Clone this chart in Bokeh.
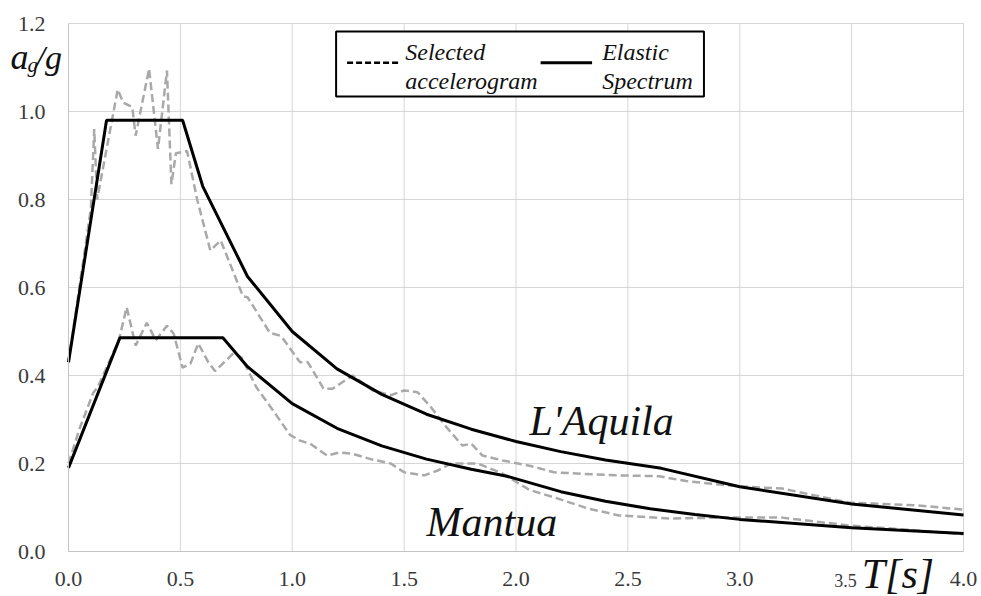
from bokeh.plotting import figure
from bokeh.models import Range1d, FixedTicker, PrintfTickFormatter, Label, LinearAxis
from bokeh.embed import file_html
from bokeh.resources import INLINE

# ---- data: spectral acceleration (a_g/g) versus period T [s] ----
aq_acc_T = [0.0, 0.10, 0.115, 0.128, 0.22, 0.245, 0.285, 0.30, 0.36, 0.40, 0.44, 0.46,
            0.48, 0.53, 0.575, 0.634, 0.68, 0.78, 0.80, 0.90, 0.95, 1.035, 1.07, 1.14,
            1.18, 1.27, 1.36, 1.44, 1.50, 1.56, 1.62, 1.69, 1.76, 1.80, 1.85, 1.94,
            2.06, 2.17, 2.36, 2.46, 2.64, 2.76, 2.91, 3.0, 3.19, 3.34, 3.49, 3.79, 4.0]
aq_acc_Sa = [0.43, 0.78, 0.96, 0.80, 1.05, 1.02, 1.01, 0.945, 1.097, 0.915, 1.093, 0.835,
             0.905, 0.91, 0.80, 0.684, 0.707, 0.58, 0.578, 0.497, 0.49, 0.43, 0.43, 0.37,
             0.37, 0.40, 0.366, 0.355, 0.366, 0.362, 0.328, 0.282, 0.241, 0.245, 0.218, 0.207,
             0.195, 0.18, 0.175, 0.173, 0.171, 0.16, 0.152, 0.148, 0.143, 0.127, 0.111, 0.105, 0.095]

mn_acc_T = [0.0, 0.05, 0.11, 0.13, 0.225, 0.26, 0.30, 0.35, 0.39, 0.44, 0.47, 0.51, 0.545,
            0.58, 0.625, 0.655, 0.74, 0.775, 0.84, 0.915, 0.99, 1.035, 1.08, 1.156, 1.21,
            1.27, 1.35, 1.44, 1.50, 1.59, 1.65, 1.71, 1.83, 1.94, 2.06, 2.17, 2.32, 2.46,
            2.69, 2.91, 3.19, 3.49, 3.79, 4.0]
mn_acc_Sa = [0.20, 0.28, 0.36, 0.373, 0.48, 0.555, 0.468, 0.52, 0.48, 0.513, 0.495, 0.418, 0.427,
             0.473, 0.43, 0.41, 0.452, 0.44, 0.373, 0.32, 0.265, 0.252, 0.245, 0.218, 0.225,
             0.222, 0.21, 0.20, 0.18, 0.173, 0.184, 0.20, 0.20, 0.177, 0.14, 0.123, 0.098, 0.082,
             0.075, 0.077, 0.077, 0.059, 0.048, 0.039]

aq_el_T = [0.0, 0.17, 0.51, 0.6, 0.8, 1.0, 1.2, 1.4, 1.6, 1.8, 2.0, 2.2, 2.4, 2.65, 3.0, 3.5, 4.0]
aq_el_Sa = [0.43, 0.98, 0.98, 0.83, 0.625, 0.50, 0.415, 0.357, 0.312, 0.278, 0.25, 0.227,
            0.208, 0.189, 0.147, 0.108, 0.083]

mn_el_T = [0.0, 0.23, 0.69, 0.8, 1.0, 1.2, 1.4, 1.6, 1.8, 1.96, 2.2, 2.4, 2.6, 2.8, 3.0, 3.5, 4.0]
mn_el_Sa = [0.19, 0.486, 0.486, 0.42, 0.336, 0.28, 0.24, 0.21, 0.187, 0.171, 0.136, 0.114,
            0.097, 0.084, 0.073, 0.054, 0.041]

x_ticks = [0.0, 0.5, 1.0, 1.5, 2.0, 2.5, 3.0, 3.5, 4.0]
y_ticks = [0.0, 0.2, 0.4, 0.6, 0.8, 1.0, 1.2]

SERIF = "Liberation Serif"
ACC_COLOR = "#a9a9a9"
GRID_COLOR = "#d6d6d6"
TICK_COLOR = "#3a3a3a"

# ---- layout: the plotting area occupies these canvas pixels ----
W, H = 981, 596
AREA_L, AREA_R, AREA_T, AREA_B = 68, 963, 23, 551
T_MIN, T_MAX, SA_MIN, SA_MAX = x_ticks[0], x_ticks[-1], y_ticks[0], y_ticks[-1]
px_per_T = (AREA_R - AREA_L) / (T_MAX - T_MIN)
px_per_Sa = (AREA_B - AREA_T) / (SA_MAX - SA_MIN)
x_rng = Range1d(T_MIN - AREA_L / px_per_T, T_MAX + (W - AREA_R) / px_per_T)
y_rng = Range1d(SA_MIN - (H - AREA_B) / px_per_Sa, SA_MAX + AREA_T / px_per_Sa)

p = figure(width=W, height=H, output_backend="svg", toolbar_location=None,
           x_range=x_rng, y_range=y_rng, x_axis_location=None, y_axis_location=None,
           min_border=0, min_border_left=0, min_border_right=0,
           min_border_top=0, min_border_bottom=0)
p.outline_line_color = None
p.background_fill_color = "white"
p.border_fill_color = "white"
p.xgrid.visible = False
p.ygrid.visible = False

# axes pinned to T = 0 and Sa = 0
xax = LinearAxis(fixed_location=0, bounds=(T_MIN, T_MAX), ticker=FixedTicker(ticks=x_ticks))
yax = LinearAxis(fixed_location=0, bounds=(SA_MIN, SA_MAX), ticker=FixedTicker(ticks=y_ticks))
for ax in (xax, yax):
    ax.major_tick_line_color = None
    ax.minor_tick_line_color = None
    ax.axis_line_color = "#c4c4c4"
    ax.axis_line_width = 1
    ax.major_label_text_font = SERIF
    ax.major_label_text_font_size = "22px"
    ax.major_label_text_color = TICK_COLOR
    ax.formatter = PrintfTickFormatter(format="%.1f")
xax.major_label_standoff = 14
yax.major_label_standoff = 17
# the 3.5 label is set smaller, next to the axis title
xax.major_label_overrides = {3.5: ""}
p.add_layout(xax, "below")
p.add_layout(yax, "left")

# grid lines at the tick values, limited to the plotting area
p.segment(x0=x_ticks, y0=[SA_MIN] * len(x_ticks), x1=x_ticks, y1=[SA_MAX] * len(x_ticks),
          line_color=GRID_COLOR, line_width=1)
p.segment(x0=[T_MIN] * len(y_ticks), y0=y_ticks, x1=[T_MAX] * len(y_ticks), y1=y_ticks,
          line_color=GRID_COLOR, line_width=1)

# recorded accelerogram spectra (dashed grey) under the code spectra (solid black)
p.line(aq_acc_T, aq_acc_Sa, line_color=ACC_COLOR, line_width=2.5, line_dash="8 4")
p.line(mn_acc_T, mn_acc_Sa, line_color=ACC_COLOR, line_width=2.5, line_dash="8 4")
p.line(aq_el_T, aq_el_Sa, line_color="black", line_width=3)
p.line(mn_el_T, mn_el_Sa, line_color="black", line_width=3)

# legend box with hand-placed keys
p.quad(left=[1.196], right=[2.84], top=[1.182], bottom=[1.034],
       fill_color="white", line_color="black", line_width=2)
p.line([1.245, 1.473], [1.111, 1.111], line_color="black", line_width=2.5, line_dash="6 3")
p.line([2.11, 2.34], [1.111, 1.111], line_color="black", line_width=3)


def put(x, y, text, size, italic=True, color="#111111", align="left"):
    p.add_layout(Label(x=x, y=y, text=text, text_font=SERIF, text_font_size=size,
                       text_font_style="italic" if italic else "normal",
                       text_color=color, text_align=align, text_baseline="alphabetic"))


put(1.505, 1.136, "Selected", "24px")
put(1.505, 1.070, "accelerogram", "24px")
put(2.385, 1.136, "Elastic", "24px")
put(2.385, 1.070, "Spectrum", "24px")

# site names
put(2.06, 0.297, "L'Aquila", "42px")
put(1.60, 0.068, "Mantua", "42px")

# axis titles
put(-0.259, 1.123, "a", "36px")
put(-0.183, 1.1065, "g", "21px")
put(-0.147, 1.1216, "/g", "34px")
put(3.473, -0.066, "3.5", "18px", italic=False, color=TICK_COLOR, align="center")
put(3.545, -0.050, "T[s]", "42px")

open("out.html", "w").write(file_html(p, INLINE))
